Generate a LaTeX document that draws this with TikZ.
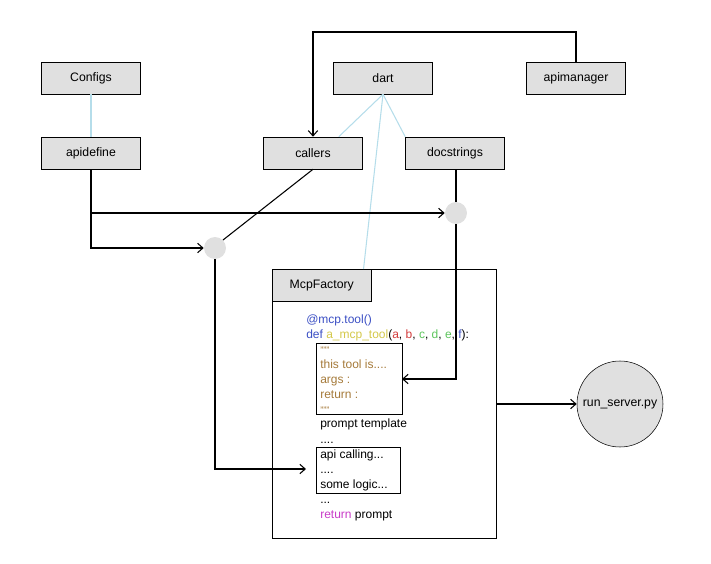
\documentclass[tikz,border=0pt]{standalone}
\usepackage{fontspec}
\setmainfont{Liberation Sans}
\usetikzlibrary{arrows.meta,positioning}
\definecolor{boxgray}{HTML}{E0E0E0}
\definecolor{linkblue}{HTML}{B5DDEA}
\definecolor{kwblue}{HTML}{3B4FC4}
\definecolor{fnyellow}{HTML}{D4C84A}
\definecolor{argred}{HTML}{D23B3B}
\definecolor{arggreen}{HTML}{5CC45C}
\definecolor{docbrown}{HTML}{A57A3A}
\definecolor{retpink}{HTML}{C83CC8}
\begin{document}
\begin{tikzpicture}[x=0.75pt,y=-0.75pt,
        box/.style={rectangle, draw=black, fill=boxgray, minimum width=74.25pt, minimum height=24pt, font=\fontsize{9.2}{11}\selectfont, inner sep=0pt},
        hub/.style={circle, fill=boxgray, minimum size=16.5pt, inner sep=0pt},
        link/.style={draw=linkblue, thick},
        arrow/.style={-{Straight Barb[length=4pt,width=7pt]}, thick},
        code/.style={anchor=west, font=\fontsize{9}{11}\selectfont, inner sep=0pt, text height=6.5pt, text depth=2pt}
    ]
    \useasboundingbox (0,0) rectangle (711,564);

    % Top row
    \node[box] (configs) at (91,78) {Configs};
    \node[box] (dart) at (383,78) {dart};
    \node[box] (apimanager) at (576,78) {apimanager};

    % Second row
    \node[box] (apidefine) at (91,153) {apidefine};
    \node[box] (callers) at (313,153) {callers};
    \node[box] (docstrings) at (455,153) {docstrings};

    % Junctions
    \node[hub] (hubdoc) at (456,213) {};
    \node[hub] (hubapi) at (215,248) {};

    % Factory frame
    \draw (272,269) rectangle (496,538);
    \coordinate (factoryeast) at (496,404);
    \node[box, anchor=north west] (factory) at (272,269) {McpFactory};

    % Code lines
    \node[code, text=kwblue] (deco) at (306,320) {@mcp.tool()};
    \node[code] (sig) at (306,335) {\textcolor{kwblue}{def} \textcolor{fnyellow}{a\_mcp\_tool}(\textcolor{argred}{a}, \textcolor{argred}{b}, \textcolor{arggreen}{c}, \textcolor{arggreen}{d}, \textcolor{arggreen}{e}, \textcolor{kwblue}{f}):};
    \node[code, text=docbrown] (q1) at (320,350) {\scriptsize """};
    \node[code, text=docbrown] (doc1) at (320,365) {this tool is....};
    \node[code, text=docbrown] (doc2) at (320,380) {args :};
    \node[code, text=docbrown] (doc3) at (320,395) {return :};
    \node[code, text=docbrown] (q2) at (320,410) {\scriptsize """};
    \node[code] (tmpl) at (320,424) {prompt template};
    \node[code] (dots1) at (320,440) {....};
    \node[code] (api1) at (320,455) {api calling...};
    \node[code] (dots2) at (320,470) {....};
    \node[code] (logic) at (320,485) {some logic...};
    \node[code] (dots3) at (320,500) {...};
    \node[code] (ret) at (320,515) {\textcolor{retpink}{return} prompt};

    % Inner frames
    \draw (316,343) rectangle (402,414);
    \coordinate (docbox) at (402,379);
    \draw (316,447) rectangle (400,493);
    \coordinate (apibox) at (306,469);

    % Output
    \node[circle, draw=black, fill=boxgray, minimum size=64.5pt, inner sep=0pt, font=\fontsize{9.2}{11}\selectfont] (server) at (620,404) {run\_server.py};

    % Light links
    \draw[link] (configs) -- (apidefine);
    \draw[link] (dart.south) -- ([xshift=-18pt]callers.north east);
    \draw[link] (dart.south) -- (docstrings.north west);
    \draw[link] (dart.south) -- ([xshift=-6pt]factory.north east);

    % Arrows
    \draw[arrow] (apimanager.north) |- (313,32) -- (callers.north);
    \draw[arrow] (apidefine.south) |- (hubapi.west);
    \draw[arrow] (91,213) -- (hubdoc.west);
    \draw[thick] (callers.south) -- (hubapi.north east);
    \draw[thick] (docstrings.south -| hubdoc) -- (hubdoc.north);
    \draw[arrow] (hubdoc.south) |- (docbox);
    \draw[arrow] (hubapi.south) |- (apibox);
    \draw[arrow] (factoryeast) -- (server.west);
\end{tikzpicture}
\end{document}
